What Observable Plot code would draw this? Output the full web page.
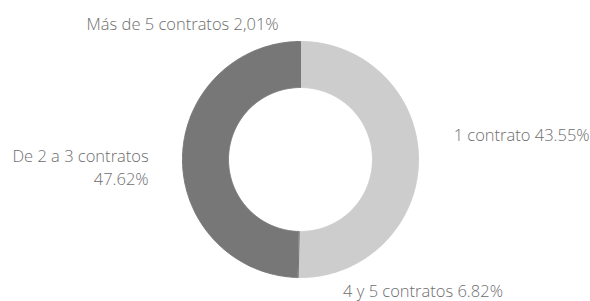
<!DOCTYPE html>
<html>
<head>
<meta charset="utf-8">
<script src="https://cdn.jsdelivr.net/npm/d3@7"></script>
<script src="https://cdn.jsdelivr.net/npm/@observablehq/plot@0.6"></script>
<style>
  html, body { margin: 0; padding: 0; background: #fff; }
  #chart { width: 590px; height: 301px; }
</style>
</head>
<body>
<div id="chart"></div>
<script>
// Data
const categories = ["1 contrato", "4 y 5 contratos", "De 2 a 3 contratos", "Más de 5 contratos"];
const values = [43.55, 6.82, 47.62, 2.01];
const valueLabels = ["43.55%", "6.82%", "47.62%", "2,01%"];

// Layout (not data)
const W = 590, H = 301;
const cx = 300, cy = 159, R = 118, r = 72;
const colors = {"1 contrato": "#cdcdcd", "4 y 5 contratos": "#cdcdcd", "De 2 a 3 contratos": "#777777", "Más de 5 contratos": "#777777"};
const nudge = {"1 contrato": [16, 2], "4 y 5 contratos": [16, -7], "De 2 a 3 contratos": [-12, -1], "Más de 5 contratos": [-13, 3]};

const table = categories.map((c, i) => ({category: c, value: values[i], label: valueLabels[i]}));
const arcs = d3.pie().value(d => d.value).sort(null)(table);

// Build polygons for each slice
const poly = [];
arcs.forEach(a => {
  const n = Math.max(8, Math.ceil((a.endAngle - a.startAngle) / 0.01));
  for (let k = 0; k <= n; k++) {
    const t = a.startAngle + (a.endAngle - a.startAngle) * k / n;
    poly.push({category: a.data.category, x: cx + R * Math.sin(t), y: cy - R * Math.cos(t)});
  }
  for (let k = n; k >= 0; k--) {
    const t = a.startAngle + (a.endAngle - a.startAngle) * k / n;
    poly.push({category: a.data.category, x: cx + r * Math.sin(t), y: cy - r * Math.cos(t)});
  }
});

const LR = R + 22;
const labels = arcs.map(a => {
  const m = (a.startAngle + a.endAngle) / 2;
  const c = a.data.category;
  const right = Math.sin(m) > 0;
  const text = c === "De 2 a 3 contratos" ? c + "\n" + a.data.label : c + " " + a.data.label;
  return {
    category: c,
    text,
    x: cx + LR * Math.sin(m) + nudge[c][0],
    y: cy - LR * Math.cos(m) + nudge[c][1],
    anchor: right ? "start" : "end"
  };
});

const textStyle = {x: "x", y: "y", text: "text", fill: "#6e6e6e", fontSize: 16.5, fontWeight: 300, lineHeight: 1.4};

const chart = Plot.plot({
  width: W, height: H,
  margin: 0,
  x: {domain: [0, W], range: [0, W], axis: null},
  y: {domain: [0, H], range: [0, H], axis: null},
  style: {fontFamily: "'Open Sans', sans-serif", background: "#fff"},
  marks: [
    Plot.line(poly, {x: "x", y: "y", z: "category", fill: d => colors[d.category], stroke: d => colors[d.category], strokeWidth: 1, curve: "linear-closed"}),
    Plot.text(labels.filter(d => d.anchor === "start"), {...textStyle, textAnchor: "start"}),
    Plot.text(labels.filter(d => d.anchor === "end"), {...textStyle, textAnchor: "end"})
  ]
});
document.getElementById("chart").appendChild(chart);
</script>
</body>
</html>
